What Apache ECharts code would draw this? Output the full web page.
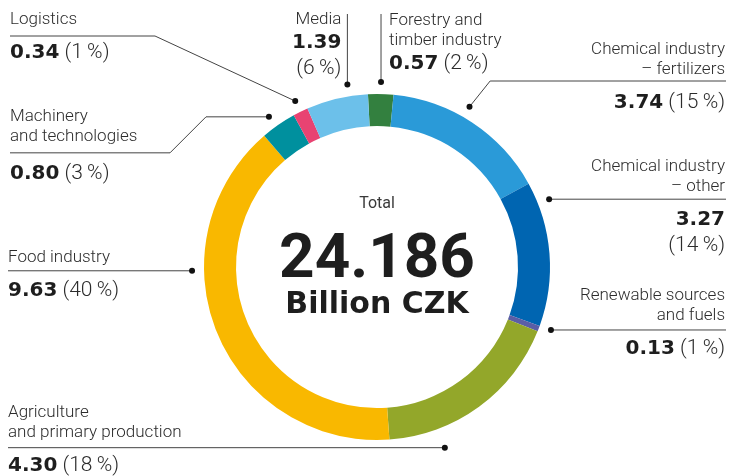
<!DOCTYPE html>
<html>
<head>
<meta charset="utf-8">
<script src="https://cdn.jsdelivr.net/npm/echarts@6/dist/echarts.min.js"></script>
<style>
  html, body { margin: 0; padding: 0; background: #fff; }
  #main { width: 739px; height: 476px; }
</style>
</head>
<body>
<div id="main"></div>
<script>
// data (billion CZK), clockwise from the top
var categories = [
  'Forestry and\ntimber industry',
  'Chemical industry\n– fertilizers',
  'Chemical industry\n– other',
  'Renewable sources\nand fuels',
  'Agriculture\nand primary production',
  'Food industry',
  'Machinery\nand technologies',
  'Logistics',
  'Media'
];
var values = [0.57, 3.74, 3.27, 0.13, 4.30, 9.63, 0.80, 0.34, 1.39];
var shares = [2, 15, 14, 1, 18, 40, 3, 1, 6];
var totalText = '24.186';
var unitText = 'Billion CZK';

var colors = ['#33803f', '#2a9ad8', '#0065b1', '#5b5ea6', '#93a72a',
              '#f9b800', '#00909e', '#e84372', '#6cc0ea'];

// label placement: t = where on the slice the leader starts, off = distance out from the ring
var place = [
  { t: 0.5, off: 12, align: 'left', gap: '', split: false,
    pos: function (d) { return { x: d[0] + 8, y: 11, line: [[d[0], 14]] }; } },
  { t: 0.44, off: 12, align: 'right', gap: '{g10| }', split: false,
    pos: function (d) { return { x: 725, y: 40, line: [[d[0] + (d[1] - 81) * 0.8, 81], [726, 81]] }; } },
  { t: 0.15, off: 12, align: 'right', gap: '{g10| }', split: true,
    pos: function (d) { return { x: 725, y: d[1] - 42, line: [[726, d[1]]] }; } },
  { t: 0.0, off: 12, align: 'right', gap: '{g10| }', split: false,
    pos: function (d) { return { x: 725, y: d[1] - 44, line: [[726, d[1]]] }; } },
  { t: 0.743, off: 20, align: 'left', gap: '{g10| }', split: false,
    pos: function (d) { return { x: 8, y: d[1] - 45, line: [[8, d[1]]] }; } },
  { t: 0.648, off: 12, align: 'left', gap: '{g10| }', split: false,
    pos: function (d) { return { x: 8, y: d[1] - 23, line: [[8, d[1]]] }; } },
  { t: 0.415, off: 12, align: 'left', gap: '{g14| }', split: false,
    pos: function (d) { return { x: 10, y: d[1] - 10, line: [[206, d[1]], [170, d[1] + 36], [10, d[1] + 36]] }; } },
  { t: 0.5, off: 12, align: 'left', gap: '{g10| }', split: false,
    pos: function (d) { return { x: 10, y: 10, line: [[155, 36], [10, 36]] }; } },
  { t: 0.7, off: 12, align: 'right', gap: '', split: true,
    pos: function (d) { return { x: d[0] - 6, y: 10, line: [[d[0], 14]] }; } }
];

var anchors = [];
var chart = echarts.init(document.getElementById('main'));

function labelText(i) {
  var lines = categories[i].split('\n').map(function (l) { return '{n|' + l + '}'; });
  var out = lines.join('\n');
  if (place[i].gap) out += '\n' + place[i].gap;
  var v = '{v|' + values[i].toFixed(2) + '}';
  var p = '(' + shares[i] + '\u2009%)';
  if (place[i].split) out += '\n' + v + '\n{p|' + p + '}';
  else out += '\n' + v + '{p| ' + p + '}';
  return out;
}

var option = {
  animation: false,
  color: colors,
  series: [{
    type: 'pie',
    center: [377, 267],
    radius: [141, 173],
    startAngle: 93,
    clockwise: true,
    avoidLabelOverlap: false,
    silent: true,
    itemStyle: { borderWidth: 0 },
    label: {
      show: true,
      position: 'outside',
      formatter: function (p) { return labelText(p.dataIndex); },
      rich: {
        n: { fontFamily: 'Roboto', fontWeight: 300, fontSize: 17, color: '#2c2c2c', lineHeight: 20 },
        v: { fontFamily: 'DejaVu Sans', fontWeight: 'bold', fontSize: 20, color: '#1e1e1e', lineHeight: 26 },
        p: { fontFamily: 'Roboto', fontWeight: 300, fontSize: 21, color: '#2c2c2c', lineHeight: 26 },
        g10: { fontSize: 2, lineHeight: 10 },
        g14: { fontSize: 2, lineHeight: 14 }
      }
    },
    labelLine: { show: true, smooth: false, lineStyle: { color: '#444', width: 1 } },
    labelLayout: function (params) {
      var i = params.dataIndex;
      var lay = chart.getModel().getSeriesByIndex(0).getData().getItemLayout(i);
      var a = lay.startAngle + place[i].t * (lay.endAngle - lay.startAngle);
      var r = lay.r + place[i].off;
      var d = [lay.cx + r * Math.cos(a), lay.cy + r * Math.sin(a)];
      anchors[i] = d;
      var q = place[i].pos(d);
      return {
        x: q.x, y: q.y,
        align: place[i].align,
        verticalAlign: 'top',
        labelLinePoints: [d].concat(q.line)
      };
    },
    data: values.map(function (v, i) { return { name: categories[i], value: v }; })
  }],
  graphic: [
    { type: 'text', x: 377, y: 204, style: { text: 'Total', fontFamily: 'Roboto', fontSize: 16, fill: '#3a3a3a', align: 'center', verticalAlign: 'middle' } },
    { type: 'text', x: 377, y: 261, style: { text: totalText, fontFamily: 'Roboto', fontWeight: 'bold', fontSize: 62, fill: '#1e1e1e', align: 'center', verticalAlign: 'middle' } },
    { type: 'text', x: 377, y: 305, style: { text: unitText, fontFamily: 'DejaVu Sans', fontWeight: 'bold', fontSize: 30, fill: '#1e1e1e', align: 'center', verticalAlign: 'middle' } }
  ]
};

chart.setOption(option);

// dots at the start of each leader line
chart.setOption({
  graphic: anchors.map(function (d, i) {
    return { type: 'circle', id: 'dot' + i, shape: { cx: d[0], cy: d[1], r: 3 }, style: { fill: '#111' }, z: 10 };
  })
});
</script>
</body>
</html>
